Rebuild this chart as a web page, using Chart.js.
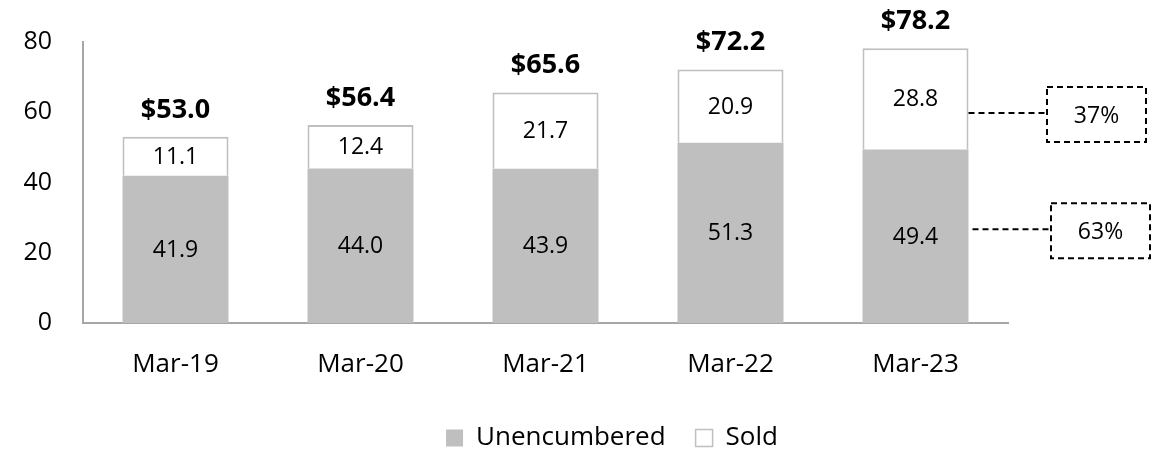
<!DOCTYPE html>
<html>
<head>
<meta charset="utf-8">
<script src="https://cdn.jsdelivr.net/npm/chart.js@4"></script>
<style>
    html, body { margin: 0; padding: 0; background: #fff; }
    #wrap { width: 1168px; height: 453px; }
</style>
</head>
<body>
<div id="wrap"><canvas id="grafico"></canvas></div>
<script>
const categorias = ["Mar-19", "Mar-20", "Mar-21", "Mar-22", "Mar-23"];
const unencumbered = [41.9, 44.0, 43.9, 51.3, 49.4];
const sold = [11.1, 12.4, 21.7, 20.9, 28.8];
const totais = ["$53.0", "$56.4", "$65.6", "$72.2", "$78.2"];
const percentuais = ["37%", "63%"];
const yTicks = [0, 20, 40, 60, 80];

const FONTE = "'Open Sans', 'Noto Sans', sans-serif";

// rotulos dentro das barras e totais em cima
const rotulosPlugin = {
    id: "rotulos",
    afterDatasetsDraw(chart) {
        const ctx = chart.ctx;
        ctx.save();
        ctx.textAlign = "center";
        ctx.textBaseline = "middle";
        ctx.fillStyle = "#000";
        ctx.font = "23px " + FONTE;
        chart.data.datasets.forEach((ds, i) => {
            chart.getDatasetMeta(i).data.forEach((bar, j) => {
                const meio = (bar.y + bar.base) / 2;
                ctx.fillText(ds.data[j].toFixed(1), bar.x, meio + 1);
            });
        });
        ctx.font = "bold 27px " + FONTE;
        chart.getDatasetMeta(1).data.forEach((bar, j) => {
            ctx.fillText(totais[j], bar.x, bar.y - 27);
        });
        ctx.restore();
    }
};

// caixas tracejadas com percentuais
const calloutPlugin = {
    id: "callout",
    afterDraw(chart) {
        const ctx = chart.ctx;
        const ultimo = categorias.length - 1;
        const barSold = chart.getDatasetMeta(1).data[ultimo];
        const barUnenc = chart.getDatasetMeta(0).data[ultimo];
        const dir = barSold.x + barSold.width / 2;
        const itens = [
            { y: (barSold.y + barSold.base) / 2 + 14, x0: dir, bx: 1047, bw: 99, bh: 55, texto: percentuais[0] },
            { y: (barUnenc.y + barUnenc.base) / 2 - 7, x0: dir + 4, bx: 1051, bw: 99, bh: 55, texto: percentuais[1] }
        ];
        ctx.save();
        ctx.strokeStyle = "#000";
        ctx.lineWidth = 2;
        ctx.setLineDash([6, 4]);
        itens.forEach(it => {
            ctx.beginPath();
            ctx.moveTo(it.x0, it.y);
            ctx.lineTo(it.bx, it.y);
            ctx.stroke();
            const topo = it.y - 26;
            ctx.strokeRect(it.bx, topo, it.bw, it.bh);
            ctx.fillStyle = "#000";
            ctx.font = "23px " + FONTE;
            ctx.textAlign = "center";
            ctx.textBaseline = "middle";
            ctx.fillText(it.texto, it.bx + it.bw / 2, topo + it.bh / 2 + 2);
        });
        ctx.restore();
    }
};

// legenda um pouco deslocada para a direita, como no original
const legendaShift = {
    id: "legendaShift",
    afterLayout(chart) {
        if (chart.legend) {
            chart.legend.left += 28;
            chart.legend.right += 28;
        }
    }
};

const ctx = document.getElementById("grafico").getContext("2d");

new Chart(ctx, {
    type: "bar",
    data: {
        labels: categorias,
        datasets: [
            {
                label: "Unencumbered",
                data: unencumbered,
                backgroundColor: "#bfbfbf",
                borderWidth: 0
            },
            {
                label: "Sold",
                data: sold,
                backgroundColor: "#ffffff",
                borderColor: "#bfbfbf",
                borderWidth: 2
            }
        ]
    },
    options: {
        responsive: true,
        maintainAspectRatio: false,
        animation: false,
        categoryPercentage: 0.573,
        barPercentage: 1,
        layout: {
            padding: { left: 0, right: 0, top: 42, bottom: -8 }
        },
        plugins: {
            legend: {
                position: "bottom",
                labels: {
                    color: "#000",
                    font: { family: FONTE, size: 26, lineHeight: 1 },
                    boxWidth: 17,
                    boxHeight: 17,
                    padding: 30,
                    useBorderRadius: false,
                    generateLabels(chart) {
                        return chart.data.datasets.map((ds, i) => ({
                            text: ds.label,
                            fillStyle: ds.backgroundColor,
                            strokeStyle: "#bfbfbf",
                            lineWidth: i === 1 ? 1.5 : 0,
                            fontColor: "#000",
                            datasetIndex: i
                        }));
                    }
                }
            },
            tooltip: { enabled: false }
        },
        scales: {
            x: {
                stacked: true,
                grid: { display: false, drawTicks: false },
                border: { color: "#a6a6a6", width: 2 },
                ticks: {
                    color: "#000",
                    font: { family: FONTE, size: 26 },
                    padding: 26
                },
                afterFit(scale) { scale.height = 72; }
            },
            y: {
                stacked: true,
                min: 0,
                max: 80,
                afterBuildTicks(scale) {
                    scale.ticks = yTicks.map(v => ({ value: v }));
                },
                grid: { display: false, drawTicks: false },
                border: { color: "#a6a6a6", width: 2 },
                ticks: {
                    color: "#000",
                    font: { family: FONTE, size: 25 },
                    padding: 31
                },
                afterFit(scale) {
                    scale.width = 83;
                    // o padding dos ticks empurrava o topo para baixo
                    scale.paddingTop = 0;
                    scale.paddingBottom = 0;
                }
            },
            // eixo vazio so para reservar espaco das caixas a direita
            espaco: {
                position: "right",
                min: 0,
                max: 80,
                grid: { display: false, drawTicks: false },
                border: { display: false },
                ticks: { display: false },
                afterFit(scale) { scale.width = 160; }
            }
        }
    },
    plugins: [rotulosPlugin, calloutPlugin, legendaShift]
});
</script>
</body>
</html>
